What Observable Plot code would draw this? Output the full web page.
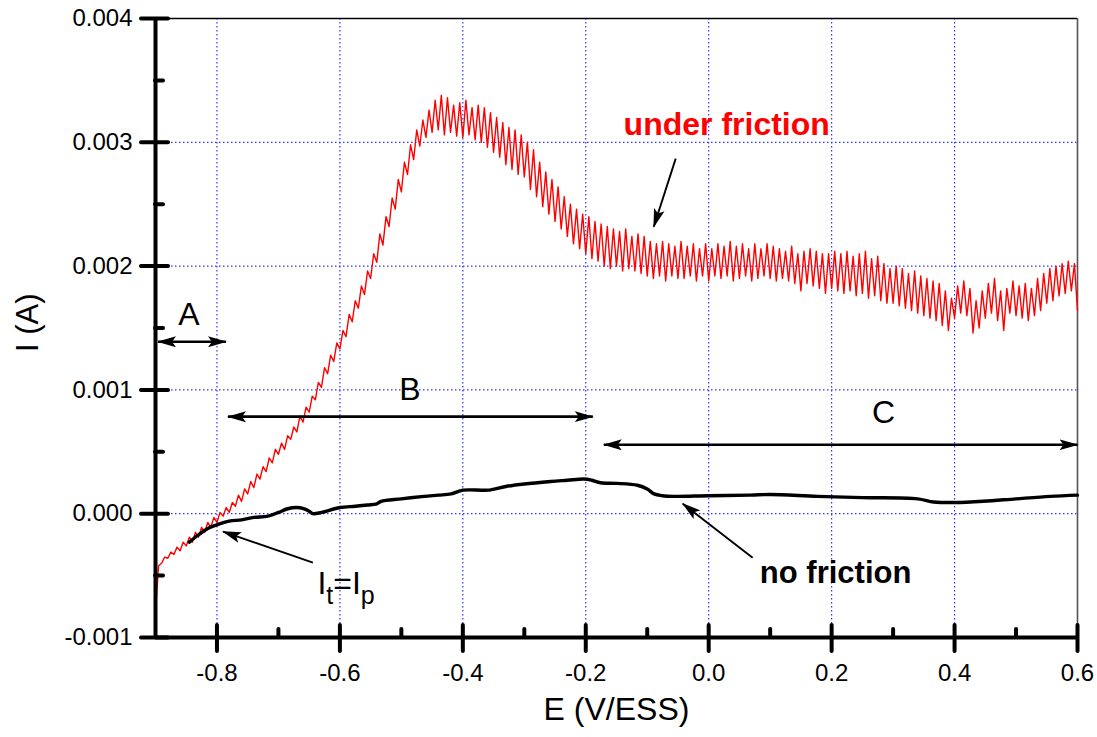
<!DOCTYPE html>
<html>
<head>
<meta charset="utf-8">
<script src="https://cdn.jsdelivr.net/npm/d3@7"></script>
<script src="https://cdn.jsdelivr.net/npm/@observablehq/plot@0.6"></script>
<style>
  html, body { margin: 0; padding: 0; background: #fff; }
</style>
</head>
<body>
<div id="chart"></div>
<script>
// ---------- axes ----------
const xMajor = [-0.8, -0.6, -0.4, -0.2, 0, 0.2, 0.4, 0.6];
const xTickLabels = ["-0.8", "-0.6", "-0.4", "-0.2", "0.0", "0.2", "0.4", "0.6"];
const xMinor = [-0.7, -0.5, -0.3, -0.1, 0.1, 0.3, 0.5];
const yMajor = [-0.001, 0, 0.001, 0.002, 0.003, 0.004];
const yTickLabels = ["-0.001", "0.000", "0.001", "0.002", "0.003", "0.004"];
const yMinor = [-0.0005, 0.0005, 0.0015, 0.0025, 0.0035];
const xGrid = [-0.8, -0.6, -0.4, -0.2, 0, 0.2, 0.4];
const yGrid = [0, 0.001, 0.002, 0.003];
const xTitle = "E (V/ESS)";
const yTitle = "I (A)";

// ---------- series: under friction (mA), sampled evenly from E = -0.9 to 0.6 ----------
const eStart = -0.9, eEnd = 0.6;
const underFriction_mA = [
  -0.80,-0.42,-0.40,-0.35,-0.36,-0.31,-0.33,-0.27,-0.30,-0.23,-0.26,-0.19,-0.23,-0.15,-0.19,-0.11,-0.15,-0.07,-0.11,-0.03,
  -0.07,0.01,-0.02,0.05,0.01,0.09,0.06,0.15,0.10,0.20,0.16,0.26,0.21,0.32,0.28,0.38,0.34,0.45,0.41,0.52,
  0.48,0.57,0.52,0.63,0.60,0.70,0.66,0.79,0.74,0.86,0.82,0.95,0.92,1.06,1.02,1.18,1.13,1.28,1.23,1.38,
  1.33,1.48,1.43,1.61,1.55,1.72,1.66,1.84,1.77,1.96,1.90,2.10,2.03,2.26,2.17,2.40,2.32,2.55,2.46,2.70,
  2.60,2.84,2.74,2.98,2.86,3.10,2.97,3.18,3.04,3.26,3.08,3.34,3.10,3.38,3.06,3.36,3.08,3.30,3.05,3.32,
  3.04,3.34,3.06,3.28,3.02,3.30,3.00,3.28,2.96,3.24,2.92,3.20,2.88,3.16,2.82,3.12,2.78,3.10,2.74,3.06,
  2.72,3.00,2.62,2.94,2.56,2.84,2.48,2.76,2.42,2.70,2.36,2.64,2.30,2.56,2.24,2.50,2.18,2.46,2.14,2.42,
  2.10,2.40,2.06,2.36,2.04,2.34,2.00,2.32,1.98,2.30,2.00,2.28,1.96,2.30,1.98,2.24,1.96,2.26,1.94,2.24,
  1.92,2.20,1.90,2.18,1.92,2.20,1.88,2.18,1.92,2.16,1.90,2.20,1.90,2.16,1.92,2.18,1.88,2.14,1.92,2.18,
  1.88,2.14,1.92,2.18,1.90,2.16,1.92,2.20,1.88,2.16,1.90,2.18,1.92,2.14,1.88,2.18,1.90,2.14,1.92,2.18,
  1.90,2.16,1.88,2.14,1.90,2.12,1.88,2.16,1.86,2.10,1.80,2.12,1.86,2.14,1.84,2.12,1.82,2.10,1.78,2.10,
  1.82,2.12,1.80,2.10,1.78,2.12,1.80,2.08,1.76,2.10,1.78,2.12,1.74,2.06,1.76,2.08,1.72,2.02,1.70,1.98,
  1.70,2.00,1.68,1.98,1.66,1.94,1.64,1.96,1.62,1.92,1.60,1.90,1.58,1.88,1.56,1.86,1.52,1.80,1.48,1.74,
  1.58,1.84,1.62,1.88,1.60,1.82,1.46,1.72,1.50,1.80,1.58,1.86,1.62,1.90,1.56,1.80,1.48,1.82,1.62,1.88,
  1.60,1.84,1.58,1.86,1.56,1.82,1.60,1.90,1.64,1.94,1.70,1.98,1.72,2.00,1.76,2.02,1.78,2.04,1.80,2.02,
  1.64
];

// ---------- series: no friction ----------
const noFrictionE = [-0.845,-0.83,-0.815,-0.80,-0.78,-0.76,-0.74,-0.717,-0.70,-0.685,-0.67,-0.659,-0.65,-0.644,-0.63,-0.60,-0.575,-0.555,-0.54,-0.533,-0.50,-0.463,-0.44,-0.419,-0.40,-0.37,-0.359,-0.33,-0.30,-0.257,-0.23,-0.203,-0.19,-0.176,-0.15,-0.116,-0.10,-0.089,-0.075,-0.057,0.0,0.068,0.10,0.177,0.25,0.34,0.366,0.40,0.447,0.50,0.556,0.60];
const noFriction_mA = [-0.23,-0.17,-0.12,-0.09,-0.06,-0.05,-0.03,-0.02,0.01,0.04,0.05,0.04,0.02,0.00,0.01,0.05,0.06,0.07,0.08,0.10,0.12,0.14,0.15,0.16,0.19,0.19,0.19,0.22,0.24,0.26,0.27,0.28,0.27,0.25,0.245,0.23,0.20,0.16,0.145,0.14,0.145,0.15,0.155,0.14,0.13,0.12,0.095,0.09,0.10,0.12,0.14,0.15];

// ---------- annotations ----------
const regionLabels = ["A", "B", "C"];
const regionLabelE = [-0.8455, -0.4862, 0.2846];
const regionLabelI = [0.001607, 0.00100, 0.000816];
const regionArrowE1 = [-0.8959, -0.7821, -0.1707];
const regionArrowE2 = [-0.7854, -0.1886, 0.6];
const regionArrowI = [0.001389, 0.000784, 0.000557];

const curveLabels = ["under friction", "no friction"];
const curveLabelE = [0.0293, 0.2065];
const curveLabelI = [0.003142, -0.000477];
const curveLabelColors = ["#ff0000", "#000000"];
const curveLabelSizes = [32, 31];

const pointerE1 = [-0.0537, 0.0715, -0.6439];
const pointerI1 = [0.002868, -0.000355, -0.000396];
const pointerE2 = [-0.0894, -0.0423, -0.7902];
const pointerI2 = [0.002318, 0.000081, -0.000145];

const crossingLabelE = -0.6358;   // "It=Ip" text start
const crossingLabelI = -0.000654; // baseline

// ---------- build tables ----------
const nU = underFriction_mA.length;
const underFriction = underFriction_mA.map((v, i) => ({E: eStart + (eEnd - eStart) * i / (nU - 1), I: v / 1000}));
const noFriction = noFrictionE.map((e, i) => ({E: e, I: noFriction_mA[i] / 1000}));
const regionText = regionLabels.map((t, i) => ({t, E: regionLabelE[i], I: regionLabelI[i]}));
const regionArrows = regionArrowE1.map((e, i) => ({E1: e, E2: regionArrowE2[i], I: regionArrowI[i]}));
const curveText = curveLabels.map((t, i) => ({t, E: curveLabelE[i], I: curveLabelI[i], c: curveLabelColors[i], s: curveLabelSizes[i]}));
const pointers = pointerE1.map((e, i) => ({E1: e, I1: pointerI1[i], E2: pointerE2[i], I2: pointerI2[i]}));

const xLab = new Map(xMajor.map((d, i) => [d, xTickLabels[i]]));
const yLab = new Map(yMajor.map((d, i) => [d, yTickLabels[i]]));

const gridColor = "#3030ff";
const font = "'Liberation Sans', Arial, Helvetica, sans-serif";

const chart = Plot.plot({
  width: 1097,
  height: 737,
  marginTop: 18,
  marginRight: 20,
  marginBottom: 100,
  marginLeft: 155,
  style: {fontFamily: font, fontSize: "24px", color: "black", background: "white", overflow: "visible"},
  x: {domain: [eStart, eEnd], ticks: xMajor, tickFormat: d => xLab.get(d), tickSize: 0, tickPadding: 26, label: null},
  y: {domain: [-0.001, 0.004], ticks: yMajor, tickFormat: d => yLab.get(d), tickSize: 0, tickPadding: 23, label: null},
  marks: [
    // grid
    Plot.ruleX(xGrid, {stroke: gridColor, strokeWidth: 1.2, strokeDasharray: "1.5,2.5"}),
    Plot.ruleY(yGrid, {stroke: gridColor, strokeWidth: 1.2, strokeDasharray: "1.5,2.5"}),
    // frame top/right
    Plot.ruleY([0.004], {stroke: "black", strokeWidth: 1.3}),
    Plot.ruleX([0.6], {stroke: "#555", strokeWidth: 1.6}),
    // curves
    Plot.line(underFriction, {x: "E", y: "I", stroke: "#ff0000", strokeWidth: 1.4}),
    Plot.line(noFriction, {x: "E", y: "I", stroke: "black", strokeWidth: 3.4, curve: "catmull-rom"}),
    // axes lines
    Plot.ruleX([eStart], {stroke: "black", strokeWidth: 4}),
    Plot.ruleY([-0.001], {stroke: "black", strokeWidth: 4}),
    // tick marks
    Plot.ruleX(xMajor, {x: d => d, y1: -0.001, y2: -0.001, insetTop: -12, insetBottom: -14, stroke: "black", strokeWidth: 4, strokeLinecap: "round"}),
    Plot.ruleX(xMinor, {x: d => d, y1: -0.001, y2: -0.001, insetTop: -8, insetBottom: 0, stroke: "black", strokeWidth: 4, strokeLinecap: "round"}),
    Plot.ruleY(yMajor, {y: d => d, x1: eStart, x2: eStart, insetLeft: -14, insetRight: -13, stroke: "black", strokeWidth: 4, strokeLinecap: "round"}),
    Plot.ruleY(yMinor, {y: d => d, x1: eStart, x2: eStart, insetLeft: 0, insetRight: -8, stroke: "black", strokeWidth: 4, strokeLinecap: "round"}),
    // region arrows + labels
    Plot.link(regionArrows, {x1: "E1", x2: "E2", y1: "I", y2: "I", stroke: "black", strokeWidth: 2.7}),
    Plot.link(pointers, {x1: "E1", y1: "I1", x2: "E2", y2: "I2", stroke: "black", strokeWidth: 1.9}),
    Plot.text(regionText, {x: "E", y: "I", text: "t", fontSize: 32, fill: "black"}),
    Plot.text(curveText, {x: "E", y: "I", text: "t", fontSize: d => d.s, fill: "c", fontWeight: "bold"}),
    // axis titles
    Plot.text([xTitle], {frameAnchor: "bottom", dy: 82, fontSize: 32, fill: "black"}),
    Plot.text([yTitle], {frameAnchor: "left", dx: -127, dy: 24, rotate: -90, fontSize: 31, fill: "black"})
  ]
});

document.getElementById("chart").appendChild(chart);

// filled arrow heads
const svg = d3.select(chart);
const defs = svg.append("defs");
defs.append("marker")
  .attr("id", "head")
  .attr("viewBox", "-18 -6 19 12")
  .attr("markerWidth", 19)
  .attr("markerHeight", 12)
  .attr("markerUnits", "userSpaceOnUse")
  .attr("refX", 0).attr("refY", 0)
  .attr("orient", "auto-start-reverse")
  .append("path")
  .attr("d", "M1,0L-18,-5.5L-14,0L-18,5.5Z")
  .attr("fill", "black");
const linkGroups = svg.selectAll('g[aria-label="link"]').nodes();
if (linkGroups[0]) d3.select(linkGroups[0]).selectAll("path").attr("marker-start", "url(#head)").attr("marker-end", "url(#head)");
if (linkGroups[1]) d3.select(linkGroups[1]).selectAll("path").attr("marker-end", "url(#head)");

// I_t = I_p label with subscripts, positioned through the plot's scales
const sx = chart.scale("x"), sy = chart.scale("y");
const lbl = svg.append("text")
  .attr("x", sx.apply(crossingLabelE))
  .attr("y", sy.apply(crossingLabelI))
  .attr("text-anchor", "start")
  .style("font-family", font)
  .style("font-size", "32px")
  .attr("fill", "black");
lbl.append("tspan").text("I");
lbl.append("tspan").style("font-size", "25px").attr("dy", 10).text("t");
lbl.append("tspan").style("font-size", "32px").attr("dy", -10).text("=I");
lbl.append("tspan").style("font-size", "25px").attr("dy", 10).text("p");
</script>
</body>
</html>
